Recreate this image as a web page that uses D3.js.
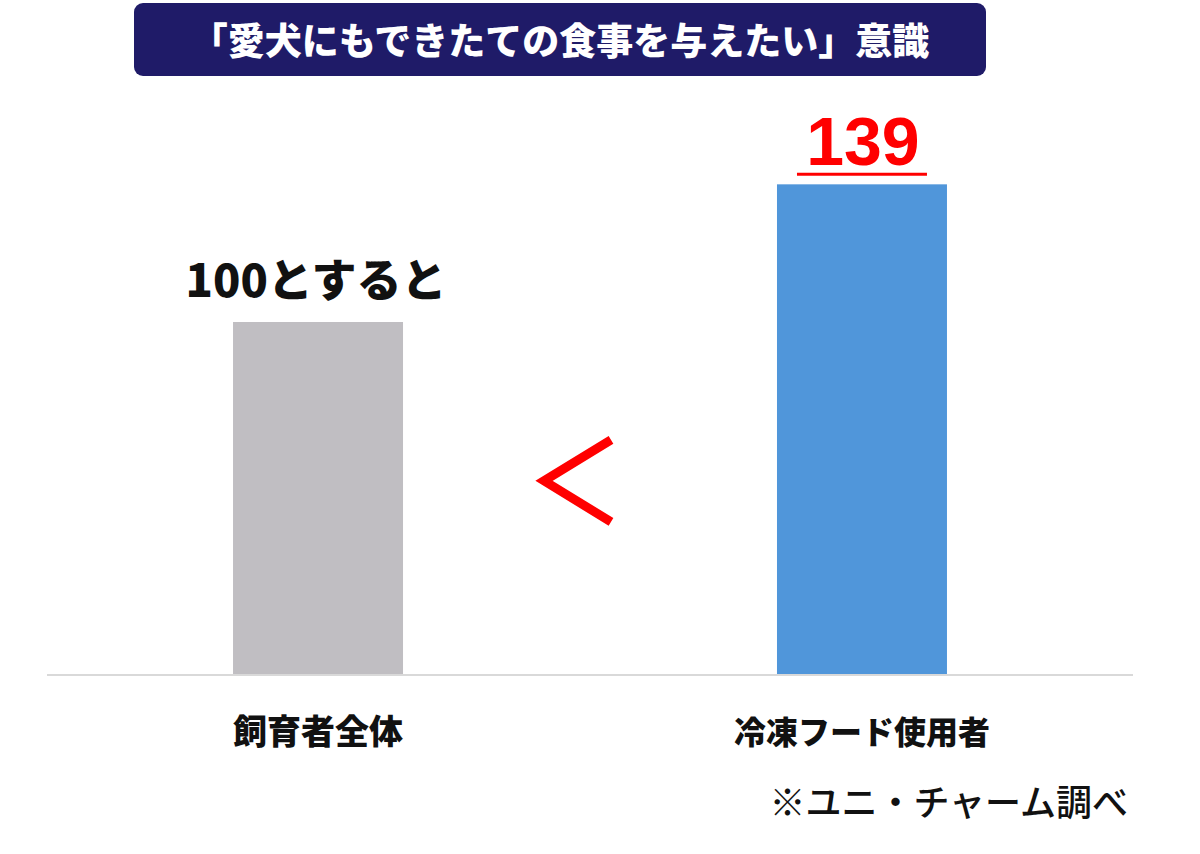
<!DOCTYPE html>
<html>
<head>
<meta charset="utf-8">
<script src="https://cdn.jsdelivr.net/npm/d3@7"></script>
<style>
  body { margin: 0; background: #fff; }
  svg { display: block; font-family: "Noto Sans CJK JP", "Noto Sans", sans-serif; }
</style>
</head>
<body>
<script>
const width  = 1200
const height = 854

// data
const categories = ["飼育者全体", "冷凍フード使用者"]
const values     = [100, 139]
const barLabels  = ["100とすると", "139"]
const title      = "「愛犬にもできたての食事を与えたい」意識"
const note       = "※ユニ・チャーム調べ"

const colours = ["#c0bec2", "#5096da"]

const svg = d3.select("body").append("svg")
  .attr("width", width)
  .attr("height", height)
  .attr("viewBox", [0, 0, width, height])

const x = d3.scaleBand()
  .domain(categories)
  .range([47, 1133])
  .paddingInner(0.6875)
  .paddingOuter(0.342)

const y = d3.scaleLinear()
  .domain([0, 100])
  .range([675, 322])

// title box
svg.append("rect")
  .attr("x", 134).attr("y", 3)
  .attr("width", 852).attr("height", 73)
  .attr("rx", 9)
  .attr("fill", "#1f1b68")

svg.append("text")
  .attr("x", 560).attr("y", 55)
  .attr("text-anchor", "middle")
  .attr("fill", "#fff")
  .attr("font-size", 37)
  .attr("font-weight", 900)
  .text(title)

// bars
svg.append("g")
  .selectAll("rect")
  .data(values)
  .join("rect")
    .attr("x", (d, i) => x(categories[i]))
    .attr("y", d => y(d))
    .attr("width", x.bandwidth())
    .attr("height", d => y(0) - y(d))
    .attr("fill", (d, i) => colours[i])

// baseline
svg.append("line")
  .attr("x1", x.range()[0]).attr("x2", x.range()[1])
  .attr("y1", y(0)).attr("y2", y(0))
  .attr("stroke", "#d9d9d9")
  .attr("stroke-width", 2)

// value labels
const cx = i => x(categories[i]) + x.bandwidth() / 2

svg.append("text")
  .attr("x", cx(0) - 2)
  .attr("y", y(values[0]) - 25)
  .attr("text-anchor", "middle")
  .attr("font-size", 45)
  .attr("font-weight", 900)
  .attr("fill", "#111")
  .text(barLabels[0])

svg.append("text")
  .attr("x", cx(1) + 1)
  .attr("y", y(values[1]) - 19)
  .attr("text-anchor", "middle")
  .attr("font-family", "'Liberation Sans', Arial, sans-serif")
  .attr("font-size", 68)
  .attr("font-weight", 700)
  .attr("fill", "#ff0000")
  .text(barLabels[1])

svg.append("line")
  .attr("x1", cx(1) - 65).attr("x2", cx(1) + 65)
  .attr("y1", y(values[1]) - 10).attr("y2", y(values[1]) - 10)
  .attr("stroke", "#ff0000")
  .attr("stroke-width", 3)

// "<" between bars
const mid = (x(categories[0]) + x.bandwidth() + x(categories[1])) / 2
const my = y(55)
svg.append("path")
  .attr("d", `M${mid + 21},${my - 41}L${mid - 46},${my}L${mid + 21},${my + 41}`)
  .attr("fill", "none")
  .attr("stroke", "#ff0000")
  .attr("stroke-width", 9)
  .attr("stroke-linejoin", "miter")

// category labels
svg.append("g")
  .selectAll("text")
  .data(categories)
  .join("text")
    .attr("x", (d, i) => cx(i))
    .attr("y", y(0) + 69)
    .attr("text-anchor", "middle")
    .attr("font-size", (d, i) => i === 0 ? 34 : 32)
    .attr("font-weight", 900)
    .attr("fill", "#111")
    .text(d => d)

svg.append("text")
  .attr("x", 1128).attr("y", 816)
  .attr("text-anchor", "end")
  .attr("font-size", 36)
  .attr("font-weight", 500)
  .attr("fill", "#111")
  .text(note)
</script>
</body>
</html>
